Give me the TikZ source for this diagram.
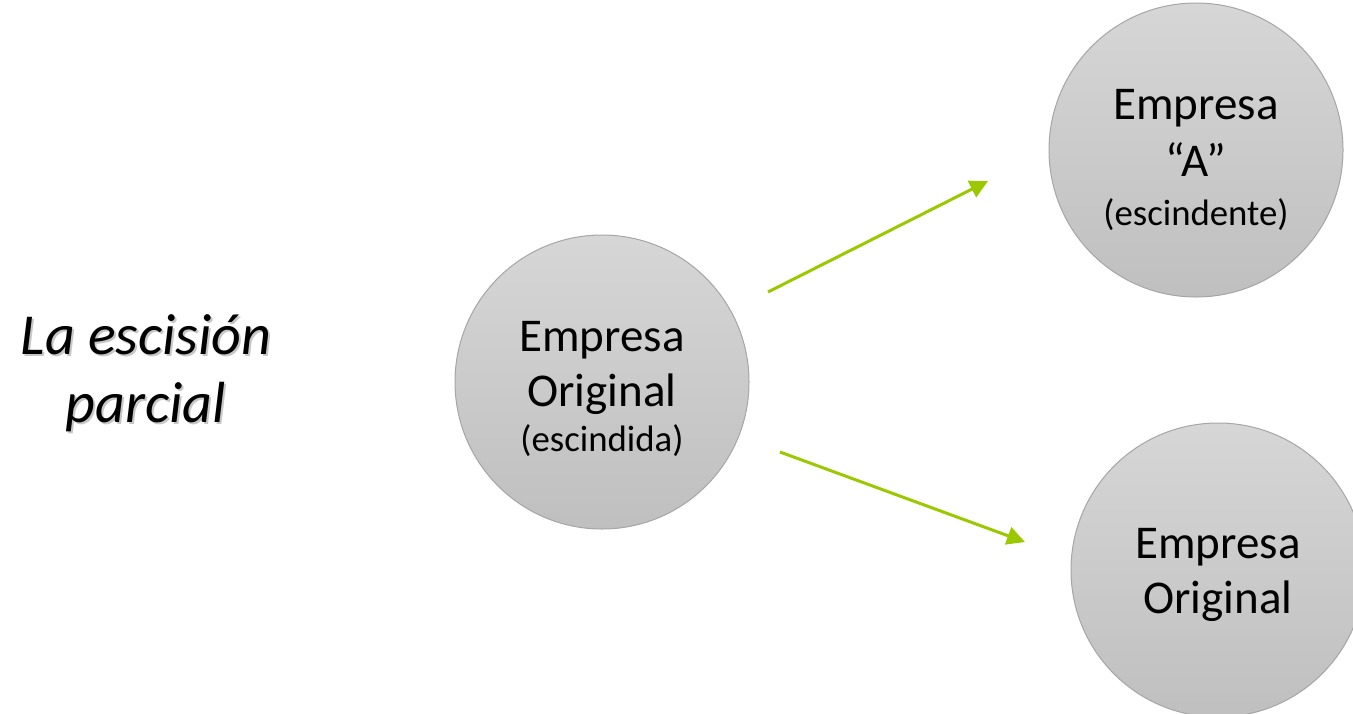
\documentclass[tikz,border=0pt]{standalone}
\usepackage{fontspec}
\setmainfont{Carlito}
\usepackage{xcolor}
\usetikzlibrary{arrows.meta,positioning}
\definecolor{verdeflecha}{HTML}{9BC800}
\definecolor{bordecirc}{HTML}{A6A6A6}
\newcommand{\chico}{\fontsize{18.4}{22}\selectfont}
\newcommand{\alto}[1]{\rule{0pt}{#1}}
\newcommand{\consombra}[1]{\rlap{\kern1pt\raisebox{-1pt}{\textcolor{black!22}{#1}}}#1}
\tikzset{
  empresa/.style={circle,draw=bordecirc,line width=0.5pt,top color=black!16,bottom color=black!25,
    minimum size=147pt,inner sep=0pt,align=center,font=\fontsize{23.5}{27.5}\selectfont},
  flecha/.style={-{Triangle[length=9pt,width=9pt]},line width=1.5pt,draw=verdeflecha}
}
\begin{document}
\begin{tikzpicture}[x=0.5pt,y=-0.5pt]
\useasboundingbox (0,0) rectangle (1353,713);
\node[align=center,font=\itshape\fontsize{29}{34}\selectfont] (titulo) at (146,374)
  {\consombra{La escisión}\\\consombra{parcial}};
\node[empresa] (org) at (602,382) {\alto{22pt}Empresa\\Original\\[-5pt]{\chico (escindida)}};
\node[empresa] (empA) at (1196,150) {\alto{25pt}Empresa\\[1pt]“A”\\[-3pt]{\chico (escindente)}};
\node[empresa] (orgB) at (1218,570) {\alto{20pt}Empresa\\Original};
\coordinate (sA) at (768,292);
\coordinate (tA) at (988,181);
\coordinate (sB) at (780,452);
\coordinate (tB) at (1025,542);
\draw[flecha] (sA) -- (tA);
\draw[flecha] (sB) -- (tB);
\end{tikzpicture}
\end{document}
